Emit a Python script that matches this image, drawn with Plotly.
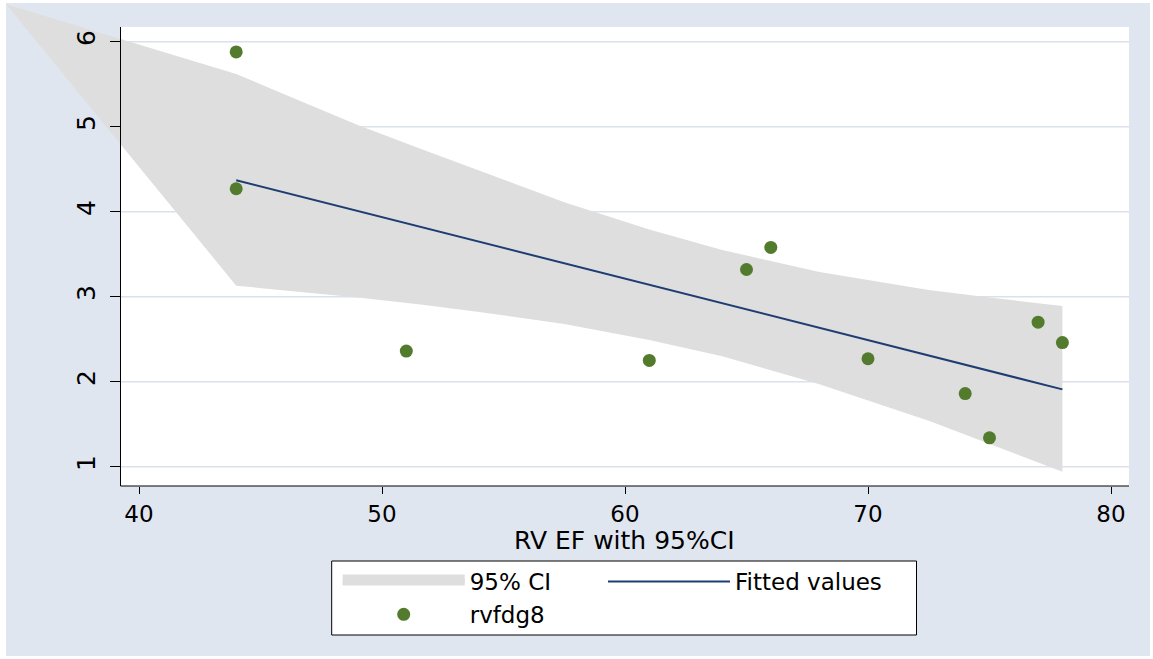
import plotly.graph_objects as go

# ---------------- data ----------------
pts_x = [44, 44, 51, 61, 65, 66, 70, 74, 75, 77, 78]
pts_y = [5.88, 4.27, 2.36, 2.25, 3.32, 3.58, 2.27, 1.86, 1.34, 2.70, 2.46]

fit_x = [44, 78]
fit_y = [4.37, 1.91]

band_x = [34.53, 44, 46, 49, 51.5, 54, 57.5, 61, 64, 68, 72.5, 75, 78]
band_upper = [6.44, 5.62, 5.38, 5.02, 4.75, 4.48, 4.11, 3.79, 3.55, 3.29, 3.08, 2.99, 2.89]
band_lower = [6.44, 3.13, 3.07, 2.99, 2.91, 2.82, 2.68, 2.49, 2.30, 1.97, 1.54, 1.27, 0.94]

x_ticks = [40, 50, 60, 70, 80]
y_ticks = [1, 2, 3, 4, 5, 6]

x_title = "RV EF with 95%CI"
names = {"ci": "95% CI", "fit": "Fitted values", "pts": "rvfdg8"}

# ---------------- styling / layout geometry ----------------
W, H = 1153, 659
FONT = "DejaVu Sans"
BG = "#E0E6F0"
GRID = "#DAE1EC"
BAND = "#DEDEDE"
NAVY = "#1E3D73"
GREEN = "#537B2D"

# axis scale: 40 -> px 139, 24.3 px / unit ; 6 -> py 41.7, 85 px / unit
X0 = 40 - 139 / 24.3
X1 = X0 + W / 24.3
Y1 = 6 + 41.7 / 85
Y0 = Y1 - H / 85

def px(v):
    return v / W

def py(v):
    return 1 - v / H

IN_L, IN_R, IN_T, IN_B = 120.5, 1129, 27, 486

fig = go.Figure()

# CI band polygon
fig.add_trace(go.Scatter(
    x=band_x + band_x[::-1],
    y=band_upper + band_lower[::-1],
    fill="toself", fillcolor=BAND, mode="lines",
    line=dict(width=0, color=BAND),
    showlegend=False, hoverinfo="skip",
))
# legend entry for the band
fig.add_trace(go.Scatter(
    x=[None], y=[None], mode="lines", name=names["ci"],
    fill="toself", fillcolor=BAND,
    line=dict(width=10, color=BAND), legend="legend",
))
# fitted line
fig.add_trace(go.Scatter(
    x=fit_x, y=fit_y, mode="lines", name=names["fit"],
    line=dict(color=NAVY, width=2), legend="legend2",
))
# points
fig.add_trace(go.Scatter(
    x=pts_x, y=pts_y, mode="markers", name=names["pts"],
    marker=dict(color=GREEN, size=13, line=dict(width=0)), legend="legend",
))

shapes = [
    dict(type="rect", xref="paper", yref="paper", x0=px(6), x1=px(1150),
         y0=py(656), y1=py(3), fillcolor=BG, line=dict(width=0), layer="below"),
    dict(type="rect", xref="paper", yref="paper", x0=px(IN_L), x1=px(IN_R),
         y0=py(IN_B), y1=py(IN_T), fillcolor="white", line=dict(width=0), layer="below"),
]
for v in y_ticks:
    shapes.append(dict(type="line", xref="paper", yref="y", x0=px(IN_L), x1=px(IN_R),
                       y0=v, y1=v, line=dict(color=GRID, width=1.5), layer="below"))
# legend frame
shapes.append(dict(type="rect", xref="paper", yref="paper", x0=px(331.7), x1=px(916.5),
                   y0=py(635), y1=py(561), fillcolor="white",
                   line=dict(color="black", width=1), layer="below"))
# axis lines
shapes.append(dict(type="line", xref="paper", yref="paper", x0=px(IN_L), x1=px(IN_L),
                   y0=py(IN_B), y1=py(IN_T), line=dict(color="black", width=1), layer="above"))
shapes.append(dict(type="line", xref="paper", yref="paper", x0=px(IN_L), x1=px(IN_R),
                   y0=py(IN_B), y1=py(IN_B), line=dict(color="black", width=1), layer="above"))

fig.update_layout(
    width=W, height=H, autosize=False,
    margin=dict(l=0, r=0, t=0, b=0, pad=0),
    paper_bgcolor="white", plot_bgcolor="rgba(0,0,0,0)",
    font=dict(family=FONT, color="black", size=25),
    shapes=shapes,
    xaxis=dict(range=[X0, X1], domain=[0, 1], anchor="free", position=py(IN_B),
               showgrid=False, zeroline=False, showline=False,
               tickmode="array", tickvals=x_ticks, ticks="outside", ticklen=7,
               tickcolor="black", tickwidth=1,
               tickfont=dict(family=FONT, size=23, color="black")),
    yaxis=dict(range=[Y0, Y1], domain=[0, 1], anchor="free", position=px(IN_L),
               showgrid=False, zeroline=False, showline=False,
               tickmode="array", tickvals=y_ticks, ticks="outside", ticklen=11,
               tickcolor="black", tickwidth=1, tickangle=-90, ticklabelstandoff=5,
               tickfont=dict(family=FONT, size=25, color="black")),
    annotations=[dict(text=x_title, xref="paper", yref="paper",
                      x=px((IN_L + IN_R) / 2), y=py(540), xanchor="center", yanchor="middle",
                      showarrow=False, font=dict(family=FONT, size=25, color="black"))],
    legend=dict(x=px(337.7), y=py(560), xanchor="left", yanchor="top",
                orientation="v", bgcolor="rgba(0,0,0,0)", borderwidth=0,
                itemwidth=122, font=dict(family=FONT, size=23, color="black"),
                tracegroupgap=0),
    legend2=dict(x=px(603), y=py(560), xanchor="left", yanchor="top",
                 orientation="v", bgcolor="rgba(0,0,0,0)", borderwidth=0,
                 itemwidth=122, font=dict(family=FONT, size=23, color="black"),
                 tracegroupgap=0),
    showlegend=True,
)

fig.write_html("out.html")
